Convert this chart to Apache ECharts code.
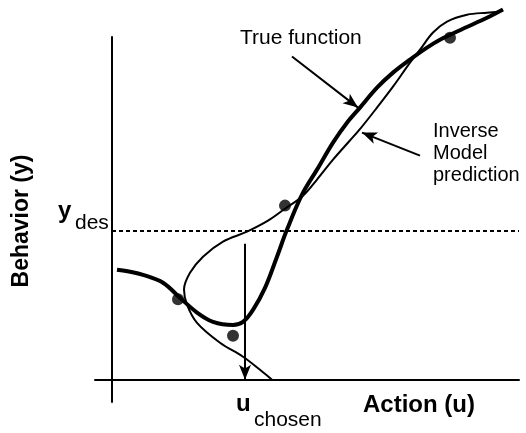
<!DOCTYPE html>
<html>
<head>
<meta charset="utf-8">
<script src="https://cdn.jsdelivr.net/npm/echarts@6/dist/echarts.min.js"></script>
<style>
  html, body { margin: 0; padding: 0; background: #fff; }
  #main { width: 526px; height: 433px; }
</style>
</head>
<body>
<div id="main"></div>
<script>
// true function y = f(u), thick curve
var trueU = [1.25, 4.5, 7.75, 12.75, 17, 21.25, 25.25, 30.25, 32.75, 35.25, 38.25, 41.25, 43.75, 47.5, 51.25, 55.25, 58.75, 62, 66.25, 70.25, 74.5, 78.75, 82, 87.75, 93.75, 97.75];
var trueY = [32.1, 31.5, 30.6, 28.3, 23.9, 19.6, 16.9, 16.0, 16.9, 20.4, 26.8, 35.9, 43.8, 54.0, 61.3, 69.2, 75.0, 79.4, 85.2, 89.6, 93.4, 96.9, 99.2, 102.4, 105.6, 108.0];

// inverse model prediction u = g(y), thin curve (ordered from bottom)
var invU = [40, 37, 32.75, 27, 21.25, 18.75, 18, 19.5, 22.75, 27.75, 33.75, 39, 43.25, 47.75, 51.25, 55.25, 59.25, 62.25, 66.25, 70.25, 74.5, 77, 80.25, 83.75, 88.75, 93.75, 97];
var invY = [0, 2.9, 6.7, 10.8, 16.6, 21.9, 26.3, 31.2, 35.9, 40.3, 43.2, 46.4, 49.9, 53.7, 58.4, 64.2, 69.5, 73.5, 79.4, 85.5, 92.5, 96.3, 101.3, 104.5, 106.5, 107.1, 107.4];

// training samples
var sampleU = [16.5, 30.25, 43.25, 84.5];
var sampleY = [23.5, 12.8, 50.8, 99.8];

var yDes = 43.4;
var uChosen = 33.25;

function zip(a, b) {
    var out = [];
    for (var i = 0; i < a.length; i++) out.push([a[i], b[i]]);
    return out;
}

var myChart = echarts.init(document.getElementById('main'));
var font = '"Liberation Sans", Arial, Helvetica, sans-serif';

var option = {
    backgroundColor: '#fff',
    animation: false,
    grid: { left: 95, right: 7, top: 37, bottom: 31 },
    xAxis: {
        type: 'value',
        min: -4.25,
        max: 101.75,
        axisLine: { onZero: true, lineStyle: { color: '#000', width: 2 } },
        axisTick: { show: false },
        axisLabel: { show: false },
        splitLine: { show: false }
    },
    yAxis: {
        type: 'value',
        min: -6.5,
        max: 100,
        axisLine: { show: true, onZero: true, lineStyle: { color: '#000', width: 2 } },
        axisTick: { show: false },
        axisLabel: { show: false },
        splitLine: { show: false }
    },
    series: [
        {
            name: 'y des',
            type: 'line',
            data: [[0, yDes], [101.75, yDes]],
            symbol: 'none',
            clip: false,
            lineStyle: { color: '#000', width: 2, type: [4, 3] },
            // arrows: u chosen and the label pointers
            markLine: {
                silent: true,
                symbol: ['none', 'arrow'],
                symbolSize: [9, 15],
                label: { show: false },
                lineStyle: { color: '#000', width: 2, type: 'solid' },
                data: [
                    [{ coord: [uChosen, 39.7] }, { coord: [uChosen, 0] }],
                    [{ coord: [45, 94.3] }, { coord: [61.5, 79.4] }],
                    [{ coord: [77, 65.4] }, { coord: [62.5, 72.1] }],
                    [{ coord: [93.75, 105.6] }, { coord: [98.5, 108.4], symbolSize: [9, 11] }]
                ]
            }
        },
        {
            name: 'Inverse Model prediction',
            type: 'line',
            data: zip(invU, invY),
            smooth: 0.35,
            symbol: 'none',
            clip: false,
            lineStyle: { color: '#000', width: 2 }
        },
        {
            name: 'True function',
            type: 'line',
            data: zip(trueU, trueY),
            smooth: 0.35,
            symbol: 'none',
            clip: false,
            lineStyle: { color: '#000', width: 4 }
        },
        {
            name: 'samples',
            type: 'scatter',
            data: zip(sampleU, sampleY),
            symbolSize: 12,
            clip: false,
            itemStyle: { color: '#000' }
        }
    ],
    graphic: [
        { type: 'text', left: 240, top: 28, style: { text: 'True function', font: '21px ' + font, fill: '#000' } },
        { type: 'text', left: 433, top: 120, style: { text: 'Inverse\nModel\nprediction', font: '20px ' + font, lineHeight: 22, fill: '#000' } },
        { type: 'text', x: 22, y: 221, rotation: Math.PI / 2, style: { text: 'Behavior (y)', font: 'bold 23px ' + font, fill: '#000', align: 'center', verticalAlign: 'middle' } },
        { type: 'text', left: 58, top: 199, style: { text: 'y', font: 'bold 24px ' + font, fill: '#000' } },
        { type: 'text', left: 75, top: 213, style: { text: 'des', font: '21px ' + font, fill: '#000' } },
        { type: 'text', left: 236, top: 392, style: { text: 'u', font: 'bold 24px ' + font, fill: '#000' } },
        { type: 'text', left: 254, top: 410, style: { text: 'chosen', font: '21px ' + font, fill: '#000' } },
        { type: 'text', left: 363, top: 393, style: { text: 'Action (u)', font: 'bold 24px ' + font, fill: '#000' } }
    ]
};

myChart.setOption(option);
</script>
</body>
</html>
